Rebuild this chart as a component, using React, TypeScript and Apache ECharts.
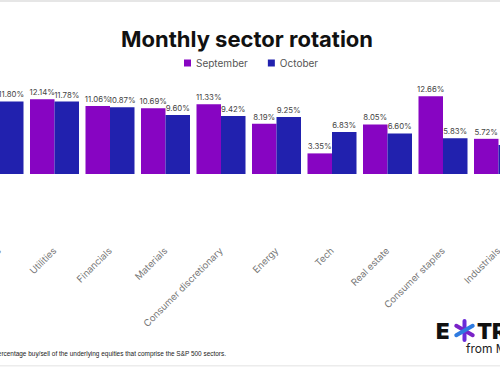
import React, { useEffect, useRef } from "react";
import * as echarts from "echarts";

const categories = [
  "Communication services",
  "Utilities",
  "Financials",
  "Materials",
  "Consumer discretionary",
  "Energy",
  "Tech",
  "Real estate",
  "Consumer staples",
  "Industrials",
];
const september: (number | null)[] = [null, 12.14, 11.06, 10.69, 11.33, 8.19, 3.35, 8.05, 12.66, 5.72];
const october: (number | null)[] = [11.8, 11.78, 10.87, 9.6, 9.42, 9.25, 6.83, 6.6, 5.83, 4.71];
const seriesNames = ["September", "October"];

const OFF = 60;
const W = 640;
const H = 368;

export default function App() {
  const ref = useRef<HTMLDivElement>(null);
  useEffect(() => {
    if (!ref.current) return;
    const chart = echarts.init(ref.current, undefined, { renderer: "svg" });
    const font = "Inter, 'Noto Sans', sans-serif";
    const labelCfg = {
      show: true,
      position: "top" as const,
      distance: 3,
      fontSize: 7.8,
      color: "#444",
      fontFamily: font,
      formatter: (p: any) => (p.value == null ? "" : Number(p.value).toFixed(2) + "%"),
    };
    const cx = OFF + 464.5;
    const cy = 330.5;
    const arm = 9.5;
    const star = [0, 60, 120].map((deg, i) => {
      const a = (deg * Math.PI) / 180;
      return {
        type: "line",
        shape: {
          x1: cx - arm * Math.sin(a),
          y1: cy - arm * Math.cos(a),
          x2: cx + arm * Math.sin(a),
          y2: cy + arm * Math.cos(a),
        },
        style: { stroke: ["#6a2bd9", "#7a22c8", "#2f7be0"][i], lineWidth: 4, lineCap: "round" },
      };
    });
    chart.setOption({
      animation: false,
      backgroundColor: "#fff",
      grid: {
        left: 31.25,
        width: 555,
        top: 87.9,
        bottom: H - 174,
        containLabel: false,
        outerBoundsMode: "none",
      },
      legend: {
        left: OFF + 179,
        top: 53,
        itemWidth: 7,
        itemHeight: 7,
        itemGap: 20,
        icon: "rect",
        textStyle: { fontSize: 10, color: "#555", fontFamily: font },
        data: seriesNames,
      },
      xAxis: {
        type: "category",
        data: categories,
        axisLine: { show: false },
        axisTick: { show: false },
        axisLabel: {
          interval: 0,
          rotate: 45,
          margin: 75,
          fontSize: 9.5,
          color: "#777",
          fontFamily: font,
        },
      },
      yAxis: {
        type: "value",
        min: 0,
        max: 14,
        show: false,
        splitLine: { show: false },
      },
      series: [
        {
          name: seriesNames[0],
          type: "bar",
          data: september,
          barGap: "0%",
          barCategoryGap: "11.7%",
          itemStyle: { color: "#8705c2" },
          label: labelCfg,
        },
        {
          name: seriesNames[1],
          type: "bar",
          data: october,
          barGap: "0%",
          barCategoryGap: "11.7%",
          itemStyle: { color: "#2121ae" },
          label: labelCfg,
        },
      ],
      graphic: [
        { type: "rect", shape: { x: 0, y: 0, width: W, height: 2 }, style: { fill: "#e6e6e6" } },
        { type: "rect", shape: { x: 0, y: 365, width: W, height: 1.5 }, style: { fill: "#ececec" } },
        {
          type: "text",
          x: OFF + 247,
          y: 39,
          style: {
            text: "Monthly sector rotation",
            textAlign: "center",
            textVerticalAlign: "middle",
            font: "bold 22px Inter, sans-serif",
            fill: "#111",
          },
        },
        {
          type: "text",
          x: OFF + 226,
          y: 353,
          style: {
            text: "percentage buy/sell of the underlying equities that comprise the S&P 500 sectors.",
            textAlign: "right",
            textVerticalAlign: "middle",
            font: "6.45px 'Liberation Sans', sans-serif",
            fill: "#222",
          },
        },
        {
          type: "text",
          x: OFF + 436,
          y: 331,
          style: {
            text: "E",
            textAlign: "left",
            textVerticalAlign: "middle",
            font: "900 22px Inter, sans-serif",
            fill: "#111",
          },
        },
        ...star,
        {
          type: "text",
          x: OFF + 477,
          y: 331,
          style: {
            text: "TRADE",
            textAlign: "left",
            textVerticalAlign: "middle",
            font: "900 22px Inter, sans-serif",
            fill: "#111",
          },
        },
        {
          type: "text",
          x: OFF + 466,
          y: 348,
          style: {
            text: "from Morgan Stanley",
            textAlign: "left",
            textVerticalAlign: "middle",
            font: "12px Inter, sans-serif",
            fill: "#222",
          },
        },
      ],
    });
    return () => chart.dispose();
  }, []);
  return (
    <div
      style={{
        position: "fixed",
        left: 0,
        top: 0,
        width: 500,
        height: H,
        overflow: "hidden",
        background: "#fff",
      }}
    >
      <div ref={ref} style={{ position: "absolute", left: -OFF, top: 0, width: W, height: H }} />
    </div>
  );
}
